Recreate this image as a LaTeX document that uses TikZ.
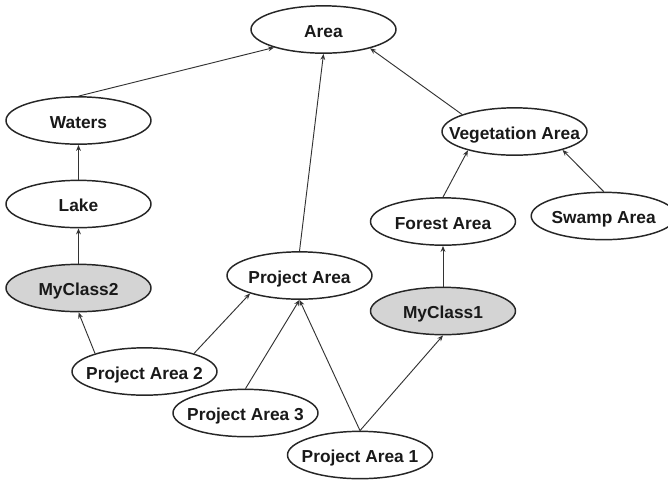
\documentclass[tikz,border=0pt]{standalone}
\usepackage{fontspec}
\setmainfont{Liberation Sans}
\usetikzlibrary{shapes.geometric,arrows.meta}

% class ellipse: fixed size, the label never widens the shape
\newcommand{\cname}[1]{\makebox[0pt][c]{#1}}

\tikzset{
  cls/.style={ellipse, draw=black!85, line width=1.1pt, fill=white,
    minimum width=108.75pt, minimum height=35.5pt, inner sep=0pt,
    text height=11.5pt, text depth=0pt,
    font=\bfseries\fontsize{13}{15}\selectfont, text=black!90},
  mycls/.style={cls, fill=black!17},
  isa/.style={draw=black!80, line width=0.7pt,
    -{Stealth[length=4.5pt,width=3.6pt]}}
}

\begin{document}
\begin{tikzpicture}[x=0.75pt, y=-0.75pt]
  \useasboundingbox (0,0) rectangle (668,480);
  \clip (0,0) rectangle (668,480);
  \fill[white] (0,0) rectangle (668,480);

  % classes
  \node[cls]   (area)   at (323.5, 29.5) {\cname{Area}};
  \node[cls]   (waters) at (78.5, 120.5) {\cname{Waters}};
  \node[cls]   (lake)   at (78.5, 204)   {\cname{Lake}};
  \node[mycls] (mc2)    at (78.5, 288)   {\cname{MyClass2}};
  \node[cls]   (veg)    at (514.5, 131.5) {\cname{Vegetation Area}};
  \node[cls]   (forest) at (443, 221.5)  {\cname{Forest Area}};
  \node[cls]   (swamp)  at (603.7, 216)  {\cname{Swamp Area}};
  \node[cls]   (pa)     at (299.5, 275.5) {\cname{Project Area}};
  \node[mycls] (mc1)    at (443, 311)    {\cname{MyClass1}};
  \node[cls]   (pa2)    at (144.5, 371.5) {\cname{Project Area 2}};
  \node[cls]   (pa3)    at (245.5, 413)  {\cname{Project Area 3}};
  \node[cls]   (pa1)    at (360, 455)    {\cname{Project Area 1}};

  % subclass links
  \draw[isa] (waters.north) -- (area.200);
  \draw[isa] (pa.north)     -- (area.south);
  \draw[isa] (veg.162)      -- (area.-22);
  \draw[isa] (lake.north)   -- (waters.south);
  \draw[isa] (mc2.north)    -- (lake.south);
  \draw[isa] (forest.north) -- (veg.202);
  \draw[isa] (swamp.north)  -- (veg.-21.6);
  \draw[isa] (mc1.north)    -- (forest.south);
  \draw[isa] (pa2.160)      -- (mc2.south);
  \draw[isa] (pa2.20)       -- (pa.200);
  \draw[isa] (pa3.north)    -- (pa.south);
  \draw[isa] (pa1.north)    -- (pa.south);
  \draw[isa] (pa1.north)    -- (mc1.south);
\end{tikzpicture}
\end{document}
